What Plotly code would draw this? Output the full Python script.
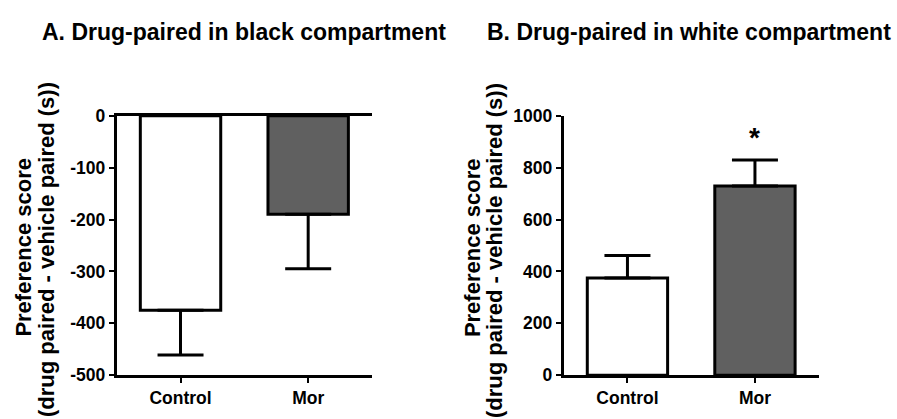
import plotly.graph_objects as go

# Data
categories = ["Control", "Mor"]
black_means = [-375, -190]
black_sem = [86, 105]
white_means = [375, 729]
white_sem = [86, 100]
bar_colors = ["#ffffff", "#606060"]

black_ticks = [-500, -400, -300, -200, -100, 0]
black_ticktext = ["-500", "-400", "-300", "-200", "-100", "0"]
white_ticks = [0, 200, 400, 600, 800, 1000]
white_ticktext = ["0", "200", "400", "600", "800", "1000"]

W, H = 897, 419
FONT = "Liberation Sans, Arial, sans-serif"

def px_x(p):
    return p / W

def px_y(p):
    return 1 - p / H

fig = go.Figure()

fig.add_trace(go.Bar(
    x=categories, y=black_means, width=0.63,
    marker=dict(color=bar_colors, line=dict(color="black", width=3)),
    error_y=dict(type="data", symmetric=False, array=[0, 0], arrayminus=black_sem,
                 color="black", thickness=3, width=23),
    xaxis="x", yaxis="y", showlegend=False,
))

fig.add_trace(go.Bar(
    x=categories, y=white_means, width=0.63,
    marker=dict(color=bar_colors, line=dict(color="black", width=3)),
    error_y=dict(type="data", symmetric=False, array=white_sem, arrayminus=[0, 0],
                 color="black", thickness=3, width=23),
    xaxis="x2", yaxis="y2", showlegend=False,
))

tickfont = dict(family=FONT, size=17.5, color="black", weight="bold")
ydom = [px_y(383.5), px_y(111)]

common_x = dict(range=[-0.5, 1.5], showline=True, linewidth=3, linecolor="black",
                ticks="outside", ticklen=5, tickwidth=2, tickcolor="black",
                showgrid=False, zeroline=False, tickfont=tickfont, fixedrange=True)
common_y = dict(showline=True, linewidth=3, linecolor="black",
                ticks="outside", ticklen=5, tickwidth=2, tickcolor="black",
                showgrid=False, zeroline=False, tickfont=tickfont, domain=ydom)

fig.update_layout(
    width=W, height=H,
    margin=dict(l=0, r=0, t=0, b=0),
    paper_bgcolor="white", plot_bgcolor="white",
    xaxis=dict(domain=[px_x(116.7), px_x(372)], anchor="y", mirror=True, **common_x),
    yaxis=dict(range=[-500, 0], tickmode="array", tickvals=black_ticks,
               ticktext=black_ticktext, anchor="x", **common_y),
    xaxis2=dict(domain=[px_x(563.7), px_x(818.7)], anchor="y2", **common_x),
    yaxis2=dict(range=[0, 1000], tickmode="array", tickvals=white_ticks,
                ticktext=white_ticktext, anchor="x2", **common_y),
)

title_font = dict(family=FONT, size=23, color="black", weight="bold")
label_font = dict(family=FONT, size=22, color="black", weight="bold")

annotations = [
    dict(text="A. Drug-paired in black compartment", x=px_x(243.5), y=px_y(23),
         xref="paper", yref="paper", showarrow=False, font=title_font,
         xanchor="center", yanchor="middle"),
    dict(text="B. Drug-paired in white compartment", x=px_x(688.5), y=px_y(23),
         xref="paper", yref="paper", showarrow=False, font=title_font,
         xanchor="center", yanchor="middle"),
]
for line1_x, line2_x in [(23.5, 47), (472, 495)]:
    annotations.append(dict(text="Preference score", x=px_x(line1_x), y=px_y(249),
                            xref="paper", yref="paper", showarrow=False, textangle=-90,
                            font=label_font, xanchor="center", yanchor="middle"))
    annotations.append(dict(text="(drug paired - vehicle paired (s))", x=px_x(line2_x), y=px_y(252),
                            xref="paper", yref="paper", showarrow=False, textangle=-90,
                            font=label_font, xanchor="center", yanchor="middle"))

# significance marker above the Mor bar in panel B
annotations.append(dict(text="*", x="Mor", y=white_means[1] + white_sem[1],
                        xref="x2", yref="y2", showarrow=False,
                        font=dict(family=FONT, size=28, color="black", weight="bold"),
                        xanchor="center", yanchor="middle", yshift=23))

fig.update_layout(annotations=annotations)

fig.write_html("out.html")
